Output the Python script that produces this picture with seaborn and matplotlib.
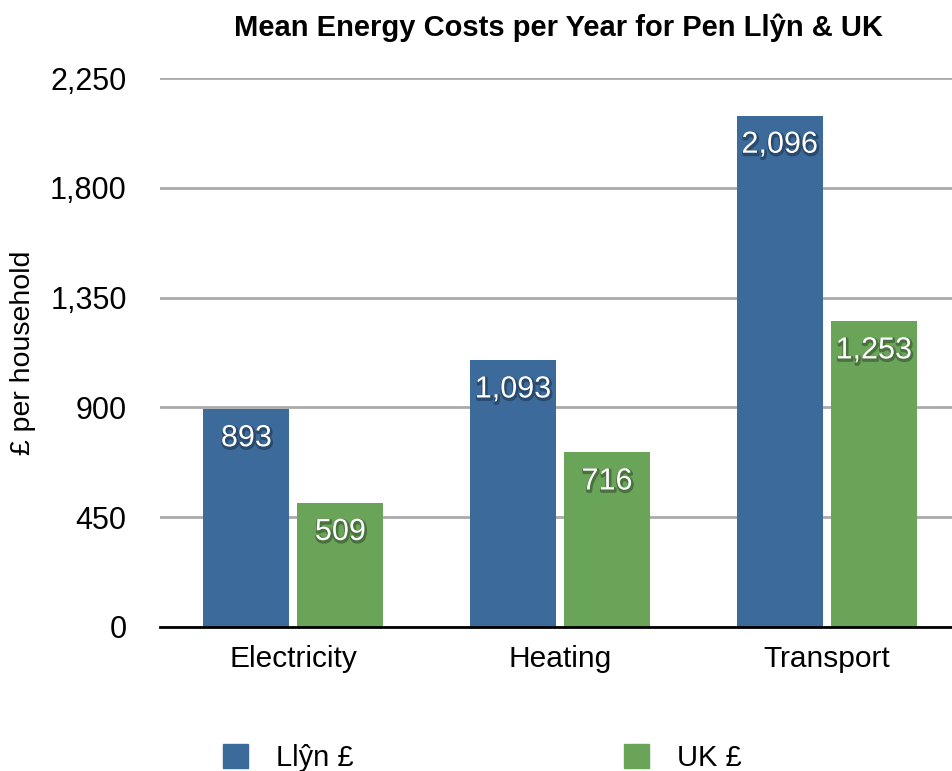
import seaborn as sns
import matplotlib.pyplot as plt
import matplotlib.patheffects as pe
from matplotlib.ticker import FuncFormatter
from matplotlib.patches import Patch
import pandas as pd

# data
categories = ["Electricity", "Heating", "Transport"]
series = ["Llŷn £", "UK £"]
llyn_values = [893, 1093, 2096]
uk_values = [509, 716, 1253]
y_ticks = [0, 450, 900, 1350, 1800, 2250]

df = pd.DataFrame({
    "Category": categories * 2,
    "Series": [series[0]] * 3 + [series[1]] * 3,
    "Cost": llyn_values + uk_values,
})

sns.set_style("white")
plt.rcParams["font.family"] = ["Liberation Sans", "DejaVu Sans"]
plt.rcParams["text.color"] = "black"
plt.rcParams["axes.labelcolor"] = "black"
plt.rcParams["xtick.color"] = "black"
plt.rcParams["ytick.color"] = "black"

fig = plt.figure(figsize=(9.52, 7.71), dpi=100)
ax = fig.add_axes([160 / 952, 1 - 627 / 771, 1 - 160 / 952, 549 / 771])

colors = {"Llŷn £": "#3B6A9B", "UK £": "#6AA459"}
sns.barplot(data=df, x="Category", y="Cost", hue="Series", palette=colors,
            width=0.705, gap=0.085, ax=ax, saturation=1, legend=False,
            linewidth=0, zorder=3)

# value labels inside the bar tops, white with a soft shadow
for cont, vals in zip(ax.containers, [llyn_values, uk_values]):
    for bar, v in zip(cont, vals):
        ax.annotate(f"{v:,}", (bar.get_x() + bar.get_width() / 2, v),
                    xytext=(0, -21), textcoords="offset points",
                    ha="center", va="center", color="white", fontsize=22,
                    zorder=5,
                    path_effects=[pe.SimpleLineShadow(offset=(0.6, -1.2), shadow_color="black",
                                                      alpha=0.3, linewidth=2.5),
                                  pe.Normal()])

ax.set_ylim(0, 2250)
ax.set_xlim(-0.5, 2.47)
ax.set_yticks(y_ticks)
ax.yaxis.set_major_formatter(FuncFormatter(lambda v, p: f"{int(v):,}"))
ax.grid(axis="y", color="#AAAAAA", linewidth=2, zorder=0)
ax.set_axisbelow(True)
for s in ["top", "right", "left"]:
    ax.spines[s].set_visible(False)
ax.spines["bottom"].set_color("black")
ax.spines["bottom"].set_linewidth(2)
ax.spines["bottom"].set_zorder(4)
ax.tick_params(axis="y", length=0, pad=24, labelsize=22)
ax.tick_params(axis="x", length=0, pad=13, labelsize=21.5)
ax.set_xlabel("")
ax.set_ylabel("£ per household", fontsize=20.5, labelpad=10)

fig.text(559 / 952, 1 - 28 / 771, "Mean Energy Costs per Year for Pen Llŷn & UK",
         ha="center", va="center", fontsize=21, fontweight="bold")

# legend along the bottom edge
handles = [Patch(color=colors[s]) for s in series]
fig.legend(handles, series, loc="center left", bbox_to_anchor=(223 / 952, 1 - 758 / 771),
           ncol=2, frameon=False, fontsize=21, handlelength=0.85, handleheight=0.85,
           handletextpad=0.95, columnspacing=9.3, borderpad=0, borderaxespad=0)

fig.savefig("out.png", dpi=100)
plt.close(fig)
